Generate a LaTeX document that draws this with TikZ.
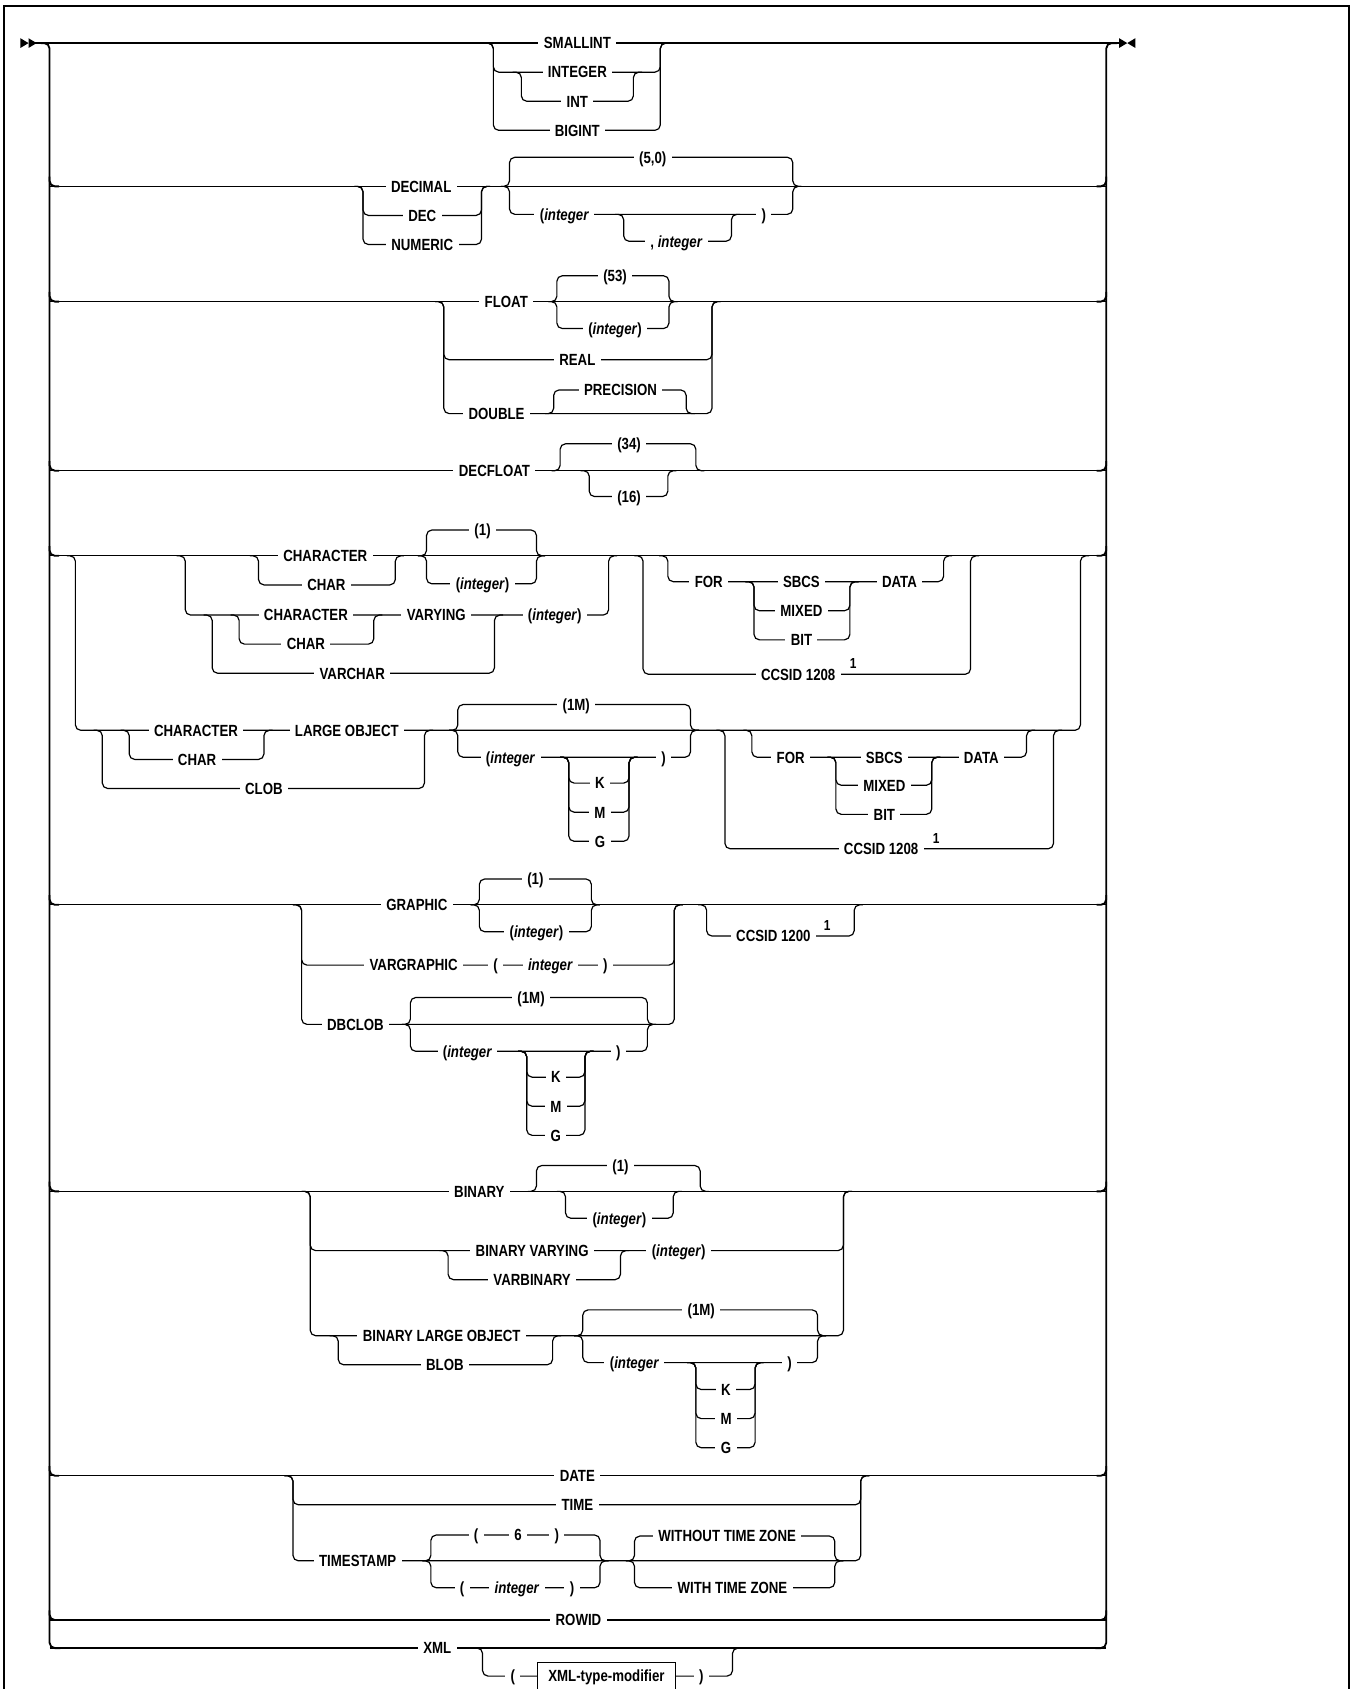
\documentclass[tikz,border=0pt]{standalone}
\usepackage{fontspec}
\setmainfont{Liberation Sans}[FakeStretch=0.82]
\newcommand\brloop[4]{\draw[ln] ({#1-8},#3) -- (#1,#3) -- (#1,#4) -- (#2,#4) -- (#2,#3) -- ({#2+8},#3);}
\newcommand\lbl[4]{\node[tx] (#1) at (#2,#3) {#4};}
\newcommand\suplbl[3]{\node[suptx] (#1) at (#2,#3) {1};}
\begin{document}
\begin{tikzpicture}[x=1pt,y=-1pt,
  ln/.style={line width=1.1pt, rounded corners=5pt},
  rail/.style={line width=1.7pt, rounded corners=5pt},
  tx/.style={fill=white, inner xsep=5pt, inner ysep=1pt, anchor=base, yshift=-5.4pt,
    font=\fontsize{15}{17}\selectfont\bfseries},
  suptx/.style={inner sep=0pt, anchor=base, yshift=5pt, font=\fontsize{13.5}{15}\selectfont\bfseries},
  boxnode/.style={draw, line width=1.1pt, fill=white, minimum width=128pt, minimum height=27pt,
    inner xsep=4pt, font=\fontsize{15}{17}\selectfont\bfseries}]
\useasboundingbox (0,0) rectangle (1255,1568);
% frame
\draw[line width=2pt] (3.5,1580) -- (3.5,5.5) -- (1252,5.5) -- (1252,1580);
% start / end markers
\fill (19,35.5) -- (26.5,40) -- (19,44.5) -- cycle;
\fill (26.5,35.5) -- (34,40) -- (26.5,44.5) -- cycle;
\fill (1039,35.5) -- (1046.5,40) -- (1039,44.5) -- cycle;
\fill (1054,35.5) -- (1046.5,40) -- (1054,44.5) -- cycle;
% main rows
\draw[ln] (32,40) -- (1041,40);
\foreach \y in {173,280,437,516,840,1106,1370,1504,1530} \draw[ln] (46,\y) -- (1027,\y);
% outer rails
\draw[rail] (38,40) -- (46,40) -- (46,1530) -- (56,1530);
\draw[rail] (1017,1530) -- (1027,1530) -- (1027,40) -- (1037,40);
\foreach \y in {173,280,437,516,840,1106,1370,1504} {
  \draw[rail] (46,\y-9) -- (46,\y) -- (55,\y);
  \draw[rail] (1018,\y) -- (1027,\y) -- (1027,\y-9);
}
% group 1
\brloop{458}{613}{40}{67}
\brloop{458}{613}{40}{121}
\brloop{484}{588}{67}{94}
% group 2
\brloop{337}{447}{173}{200}
\brloop{337}{447}{173}{227}
\brloop{473}{736}{173}{146}
\brloop{473}{736}{173}{199}
\brloop{579}{679}{199}{224}
% group 3
\brloop{412}{661}{280}{334}
\brloop{412}{661}{280}{384}
\brloop{517}{621}{280}{256}
\brloop{517}{621}{280}{305}
\brloop{514}{637}{384}{362}
% group 4
\brloop{520}{646}{437}{412}
\brloop{547}{620}{437}{461}
% group 5 upper
\brloop{70}{1003}{516}{678}
\brloop{172}{565}{516}{571}
\brloop{240}{367}{516}{543}
\brloop{396}{498}{516}{492}
\brloop{396}{498}{516}{542}
\brloop{197}{459}{571}{625}
\brloop{222}{347}{571}{598}
\brloop{620}{876}{516}{540}
\brloop{597}{901}{516}{626}
\brloop{700}{789}{540}{567}
\brloop{700}{789}{540}{594}
% group 5 lower
\brloop{95}{394}{678}{732}
\brloop{120}{245}{678}{705}
\brloop{425}{641}{678}{654}
\brloop{425}{641}{678}{703}
\brloop{528}{584}{703}{727}
\brloop{528}{584}{703}{754}
\brloop{528}{584}{703}{781}
\brloop{698}{953}{678}{703}
\brloop{673}{978}{678}{788}
\brloop{776}{865}{703}{729}
\brloop{776}{865}{703}{756}
% group 6
\brloop{280}{626}{840}{896}
\brloop{280}{626}{840}{951}
\brloop{445}{549}{840}{816}
\brloop{445}{549}{840}{865}
\brloop{381}{601}{951}{926}
\brloop{381}{601}{951}{976}
\brloop{489}{543}{976}{1000}
\brloop{489}{543}{976}{1027}
\brloop{489}{543}{976}{1054}
\brloop{656}{793}{840}{869}
% group 7
\brloop{288}{783}{1106}{1161}
\brloop{288}{783}{1106}{1240}
\brloop{498}{650}{1106}{1082}
\brloop{525}{625}{1106}{1131}
\brloop{416}{576}{1161}{1188}
\brloop{314}{513}{1240}{1267}
\brloop{541}{759}{1240}{1216}
\brloop{541}{759}{1240}{1265}
\brloop{646}{701}{1265}{1290}
\brloop{646}{701}{1265}{1317}
\brloop{646}{701}{1265}{1344}
% group 8
\brloop{272}{799}{1370}{1397}
\brloop{272}{799}{1370}{1449}
\brloop{400}{557}{1449}{1425}
\brloop{400}{557}{1449}{1474}
\brloop{589}{775}{1449}{1426}
\brloop{589}{775}{1449}{1474}
% group 10
\brloop{448}{680}{1530}{1556}
% ---- labels ----
\lbl{smallint}{536}{40}{SMALLINT}
\lbl{integer}{536}{67}{INTEGER}
\lbl{int}{536}{94}{INT}
\lbl{bigint}{536}{121}{BIGINT}
\lbl{decimal}{391}{173}{DECIMAL}
\lbl{dec}{392}{200}{DEC}
\lbl{numeric}{392}{227}{NUMERIC}
\lbl{d50}{606}{146}{(5,0)}
\lbl{dint}{524}{199}{(\textit{integer}}
\lbl{dint2}{628}{224}{, \textit{integer}}
\lbl{dclose}{709}{199}{)}
\lbl{float}{470}{280}{FLOAT}
\lbl{f53}{571}{256}{(53)}
\lbl{fint}{571}{305}{(\textit{integer})}
\lbl{real}{536}{334}{REAL}
\lbl{double}{461}{384}{DOUBLE}
\lbl{precision}{576}{362}{PRECISION}
\lbl{decfloat}{459}{437}{DECFLOAT}
\lbl{d34}{584}{412}{(34)}
\lbl{d16}{584}{461}{(16)}
\lbl{chara}{302}{516}{CHARACTER}
\lbl{charb}{303}{543}{CHAR}
\lbl{cone}{448}{492}{(1)}
\lbl{cint}{448}{542}{(\textit{integer})}
\lbl{charc}{284}{571}{CHARACTER}
\lbl{chard}{284}{598}{CHAR}
\lbl{varying}{405}{571}{VARYING}
\lbl{vint}{515}{571}{(\textit{integer})}
\lbl{varchar}{327}{625}{VARCHAR}
\lbl{fora}{658}{540}{FOR}
\lbl{sbcsa}{744}{540}{SBCS}
\lbl{mixeda}{744}{567}{MIXED}
\lbl{bita}{744}{594}{BIT}
\lbl{dataa}{835}{540}{DATA}
\lbl{ccsida}{741}{626}{CCSID 1208}
\suplbl{supa}{792}{626}
\lbl{chare}{182}{678}{CHARACTER}
\lbl{charf}{183}{705}{CHAR}
\lbl{lob}{322}{678}{LARGE OBJECT}
\lbl{clob}{245}{732}{CLOB}
\lbl{conem}{535}{654}{(1M)}
\lbl{cintb}{474}{703}{(\textit{integer}}
\lbl{ka}{557}{727}{K}
\lbl{ma}{557}{754}{M}
\lbl{ga}{557}{781}{G}
\lbl{cclose}{616}{703}{)}
\lbl{forb}{734}{703}{FOR}
\lbl{sbcsb}{821}{703}{SBCS}
\lbl{mixedb}{821}{729}{MIXED}
\lbl{bitb}{821}{756}{BIT}
\lbl{datab}{911}{703}{DATA}
\lbl{ccsidb}{818}{788}{CCSID 1208}
\suplbl{supb}{869}{788}
\lbl{graphic}{387}{840}{GRAPHIC}
\lbl{gone}{497}{816}{(1)}
\lbl{gint}{498}{865}{(\textit{integer})}
\lbl{vargraphic}{384}{896}{VARGRAPHIC}
\lbl{vgo}{460}{896}{(}
\lbl{vgi}{511}{896}{\textit{integer}}
\lbl{vgc}{562}{896}{)}
\lbl{dbclob}{330}{951}{DBCLOB}
\lbl{dbonem}{493}{926}{(1M)}
\lbl{dbint}{434}{976}{(\textit{integer}}
\lbl{kb}{516}{1000}{K}
\lbl{mb}{516}{1027}{M}
\lbl{gb}{516}{1054}{G}
\lbl{dbclose}{574}{976}{)}
\lbl{ccsidc}{718}{869}{CCSID 1200}
\suplbl{supc}{768}{869}
\lbl{binary}{445}{1106}{BINARY}
\lbl{bone}{576}{1082}{(1)}
\lbl{bint}{575}{1131}{(\textit{integer})}
\lbl{binvar}{494}{1161}{BINARY VARYING}
\lbl{varbin}{494}{1188}{VARBINARY}
\lbl{bvint}{630}{1161}{(\textit{integer})}
\lbl{blo}{410}{1240}{BINARY LARGE OBJECT}
\lbl{blob}{413}{1267}{BLOB}
\lbl{bonem}{651}{1216}{(1M)}
\lbl{blint}{589}{1265}{(\textit{integer}}
\lbl{kc}{674}{1290}{K}
\lbl{mc}{674}{1317}{M}
\lbl{gc}{674}{1344}{G}
\lbl{blclose}{733}{1265}{)}
\lbl{date}{536}{1370}{DATE}
\lbl{time}{536}{1397}{TIME}
\lbl{timestamp}{332}{1449}{TIMESTAMP}
\lbl{toa}{442}{1425}{(}
\lbl{tsix}{481}{1425}{6}
\lbl{tca}{517}{1425}{)}
\lbl{tob}{429}{1474}{(}
\lbl{tint}{480}{1474}{\textit{integer}}
\lbl{tcb}{531}{1474}{)}
\lbl{without}{675}{1426}{WITHOUT TIME ZONE}
\lbl{withtz}{680}{1474}{WITH TIME ZONE}
\lbl{rowid}{537}{1504}{ROWID}
\lbl{xml}{406}{1530}{XML}
\lbl{xo}{476}{1556}{(}
\node[boxnode] (xbox) at (563,1557) {XML-type-modifier};
\lbl{xc}{651}{1556}{)}
\end{tikzpicture}
\end{document}
